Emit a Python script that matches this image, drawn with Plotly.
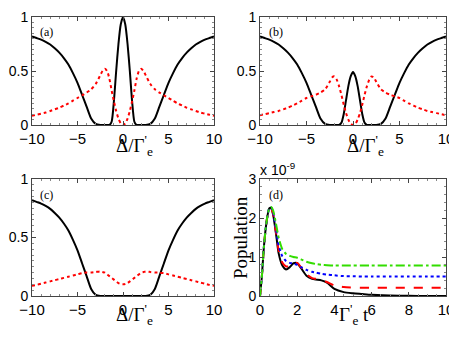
import plotly.graph_objects as go

# detuning grid for panels (a)-(c)
delta = [-10, -9.5, -9, -8.5, -8, -7.5, -7, -6.5, -6, -5.5, -5, -4.5, -4, -3.5, -3, -2.5,
         -2.25, -2, -1.75, -1.5, -1.25, -1, -0.75, -0.5, -0.25, 0,
         0.25, 0.5, 0.75, 1, 1.25, 1.5, 1.75, 2, 2.25, 2.5, 3, 3.5, 4, 4.5, 5, 5.5,
         6, 6.5, 7, 7.5, 8, 8.5, 9, 9.5, 10]

# panel (a)
a_black = [0.82, 0.805, 0.79, 0.77, 0.745, 0.71, 0.67, 0.62, 0.56, 0.48, 0.39, 0.28, 0.17, 0.06, 0.01, 0,
           0, 0, 0, 0, 0.03, 0.22, 0.5, 0.75, 0.93, 1.0,
           0.93, 0.75, 0.5, 0.22, 0.03, 0, 0, 0, 0, 0, 0.01, 0.06, 0.17, 0.28, 0.39, 0.48,
           0.56, 0.62, 0.67, 0.71, 0.745, 0.77, 0.79, 0.805, 0.82]
a_red = [0.085, 0.095, 0.105, 0.115, 0.13, 0.145, 0.16, 0.18, 0.2, 0.225, 0.25, 0.275, 0.3, 0.33, 0.38, 0.46,
         0.5, 0.52, 0.5, 0.43, 0.32, 0.22, 0.13, 0.06, 0.015, 0,
         0.015, 0.06, 0.13, 0.22, 0.32, 0.43, 0.5, 0.52, 0.5, 0.46, 0.38, 0.33, 0.3, 0.275, 0.25, 0.225,
         0.2, 0.18, 0.16, 0.145, 0.13, 0.115, 0.105, 0.095, 0.085]

# panel (b)
b_black = [0.82, 0.805, 0.79, 0.77, 0.745, 0.71, 0.67, 0.62, 0.56, 0.48, 0.39, 0.28, 0.17, 0.06, 0.01, 0,
           0, 0, 0, 0, 0.02, 0.1, 0.23, 0.36, 0.45, 0.49,
           0.45, 0.36, 0.23, 0.1, 0.02, 0, 0, 0, 0, 0, 0.01, 0.06, 0.17, 0.28, 0.39, 0.48,
           0.56, 0.62, 0.67, 0.71, 0.745, 0.77, 0.79, 0.805, 0.82]
b_red = [0.09, 0.1, 0.11, 0.12, 0.13, 0.145, 0.16, 0.18, 0.2, 0.225, 0.25, 0.265, 0.28, 0.3, 0.33, 0.4,
         0.44, 0.45, 0.42, 0.36, 0.28, 0.19, 0.11, 0.05, 0.01, 0,
         0.01, 0.05, 0.11, 0.19, 0.28, 0.36, 0.42, 0.45, 0.44, 0.4, 0.33, 0.3, 0.28, 0.265, 0.25, 0.225,
         0.2, 0.18, 0.16, 0.145, 0.13, 0.12, 0.11, 0.1, 0.09]

# panel (c)
c_black = [0.82, 0.805, 0.79, 0.77, 0.745, 0.71, 0.67, 0.62, 0.56, 0.48, 0.39, 0.28, 0.17, 0.06, 0.01, 0,
           0, 0, 0, 0, 0, 0, 0, 0, 0, 0,
           0, 0, 0, 0, 0, 0, 0, 0, 0, 0, 0.01, 0.06, 0.17, 0.28, 0.39, 0.48,
           0.56, 0.62, 0.67, 0.71, 0.745, 0.77, 0.79, 0.805, 0.82]
c_red = [0.088, 0.095, 0.105, 0.115, 0.125, 0.135, 0.145, 0.155, 0.165, 0.175, 0.185, 0.195, 0.2, 0.2, 0.205, 0.21,
         0.205, 0.2, 0.185, 0.17, 0.155, 0.14, 0.125, 0.11, 0.102, 0.1,
         0.102, 0.11, 0.125, 0.14, 0.155, 0.17, 0.185, 0.2, 0.205, 0.21, 0.205, 0.2, 0.2, 0.195, 0.185, 0.175,
         0.165, 0.155, 0.145, 0.135, 0.125, 0.115, 0.105, 0.095, 0.088]

# panel (d): population vs time (units of 1e-9)
t = [0, 0.1, 0.2, 0.3, 0.4, 0.5, 0.6, 0.7, 0.8, 0.9, 1.0, 1.2, 1.4, 1.6, 1.8, 2.0, 2.2, 2.5,
     2.8, 3.0, 3.3, 3.6, 4.0, 4.5, 5.0, 5.5, 6.0, 7.0, 8.0, 9.0, 10]
d_black = [0, 0.5, 1.2, 1.7, 2.05, 2.25, 2.25, 2.1, 1.8, 1.45, 1.1, 0.78, 0.68, 0.74, 0.84, 0.84, 0.72, 0.52,
           0.44, 0.42, 0.4, 0.34, 0.18, 0.1, 0.07, 0.05, 0.03, 0.015, 0.005, 0, 0]
d_red = [0, 0.5, 1.2, 1.7, 2.05, 2.25, 2.25, 2.1, 1.82, 1.5, 1.18, 0.86, 0.76, 0.78, 0.85, 0.85, 0.74, 0.56,
         0.46, 0.44, 0.41, 0.36, 0.27, 0.23, 0.215, 0.21, 0.21, 0.21, 0.21, 0.21, 0.21]
d_blue = [0, 0.5, 1.2, 1.7, 2.05, 2.25, 2.27, 2.15, 1.9, 1.6, 1.3, 1.02, 0.9, 0.85, 0.83, 0.8, 0.74, 0.67,
          0.62, 0.6, 0.57, 0.55, 0.53, 0.51, 0.505, 0.5, 0.5, 0.5, 0.5, 0.5, 0.5]
d_green = [0, 0.5, 1.2, 1.7, 2.05, 2.25, 2.28, 2.2, 2.0, 1.75, 1.5, 1.2, 1.08, 1.03, 1.0, 0.98, 0.94, 0.88,
           0.84, 0.82, 0.8, 0.79, 0.78, 0.78, 0.78, 0.78, 0.78, 0.78, 0.78, 0.78, 0.78]

# the page body keeps its 8px margin, so the figure is made smaller and
# positions are written in window pixels, then converted
OFF = 8
W, H = 457 - OFF, 341 - OFF


def fx(v):
    return (v - OFF) / W


def fy(v):
    return 1 - (v - OFF) / H


fig = go.Figure()

panels = [("x", "y", a_black, a_red), ("x2", "y2", b_black, b_red), ("x3", "y3", c_black, c_red)]
for xa, ya, blk, red in panels:
    fig.add_trace(go.Scatter(x=delta, y=blk, xaxis=xa, yaxis=ya, mode="lines",
                             line=dict(color="black", width=2, shape="spline", smoothing=0.6)))
    fig.add_trace(go.Scatter(x=delta, y=red, xaxis=xa, yaxis=ya, mode="lines",
                             line=dict(color="red", width=2, dash="dot", shape="spline", smoothing=0.6)))

d_series = [(d_black, "black", "solid"), (d_red, "red", "dash"),
            (d_blue, "blue", "dot"), (d_green, "#33dd00", "dashdot")]
for vals, col, dash in d_series:
    fig.add_trace(go.Scatter(x=t, y=vals, xaxis="x4", yaxis="y4", mode="lines",
                             line=dict(color=col, width=2, dash=dash, shape="spline", smoothing=0.6)))

serif = "Liberation Serif, Times New Roman, serif"
sans = "Liberation Sans, Arial, sans-serif"
frame = dict(showline=True, mirror="allticks", linecolor="#444", linewidth=1, automargin=False,
             ticks="inside", ticklen=4, tickcolor="#444", showgrid=False, zeroline=False,
             minor=dict(ticks="inside", ticklen=2, tickcolor="#888", nticks=5))
xfont = dict(family=sans, size=15, color="black")
yfont = dict(family=sans, size=14, color="black")

xl = [fx(32), fx(214)]
xr = [fx(260), fx(446)]
yt = [fy(125), fy(17)]
yb = [fy(296), fy(179)]

fig.update_layout(
    template="none",
    font=dict(color="black", family=sans),
    width=W, height=H, margin=dict(l=0, r=0, t=0, b=0),
    plot_bgcolor="white", paper_bgcolor="white", showlegend=False,
    xaxis=dict(domain=xl, anchor="y", range=[-10, 10], tickvals=[-10, -5, 0, 5, 10], tickfont=xfont, **frame),
    yaxis=dict(domain=yt, anchor="x", range=[0, 1], tickvals=[0, 0.5, 1], tickfont=yfont, **frame),
    xaxis2=dict(domain=xr, anchor="y2", range=[-10, 10], tickvals=[-10, -5, 0, 5, 10], tickfont=xfont, **frame),
    yaxis2=dict(domain=yt, anchor="x2", range=[0, 1], tickvals=[0, 0.5, 1], tickfont=yfont, **frame),
    xaxis3=dict(domain=xl, anchor="y3", range=[-10, 10], tickvals=[-10, -5, 0, 5, 10], tickfont=xfont, **frame),
    yaxis3=dict(domain=yb, anchor="x3", range=[0, 1], tickvals=[0, 0.5, 1], tickfont=yfont, **frame),
    xaxis4=dict(domain=xr, anchor="y4", range=[0, 10], tickvals=[0, 2, 4, 6, 8, 10], tickfont=xfont, **frame),
    yaxis4=dict(domain=yb, anchor="x4", range=[0, 3], tickvals=[0, 1, 2, 3], tickfont=yfont, **frame),
)

# axis titles placed as annotations
titlefont = dict(family=serif, size=19, color="black")
dtxt = "Δ/Γ<sup>'</sup><sub>e</sub>"
for xc, ypix in [(134, 130), (365, 130), (134, 299)]:
    fig.add_annotation(text=dtxt, xref="paper", yref="paper", x=fx(xc), y=fy(ypix),
                       xanchor="center", yanchor="top", showarrow=False, font=titlefont)
fig.add_annotation(text="Γ<sup>'</sup><sub>e</sub> t", xref="paper", yref="paper", x=fx(354),
                   y=fy(299), xanchor="center", yanchor="top", showarrow=False, font=titlefont)
fig.add_annotation(text="Population", xref="paper", yref="paper", x=fx(240), y=fy(238),
                   xanchor="center", yanchor="middle", textangle=-90, showarrow=False, font=titlefont)

labels = [("(a)", "x domain", "y domain"), ("(b)", "x2 domain", "y2 domain"),
          ("(c)", "x3 domain", "y3 domain"), ("(d)", "x4 domain", "y4 domain")]
for txt, xr_, yr_ in labels:
    fig.add_annotation(text=txt, xref=xr_, yref=yr_, x=0.035, y=0.94, xanchor="left", yanchor="top",
                       showarrow=False, font=dict(family=serif, size=12, color="black"))

fig.add_annotation(text="x 10<sup>-9</sup>", xref="x4 domain", yref="y4 domain", x=-0.01, y=0.99,
                   xanchor="left", yanchor="bottom", showarrow=False,
                   font=dict(family=sans, size=14, color="black"))

fig.write_html("out.html")
